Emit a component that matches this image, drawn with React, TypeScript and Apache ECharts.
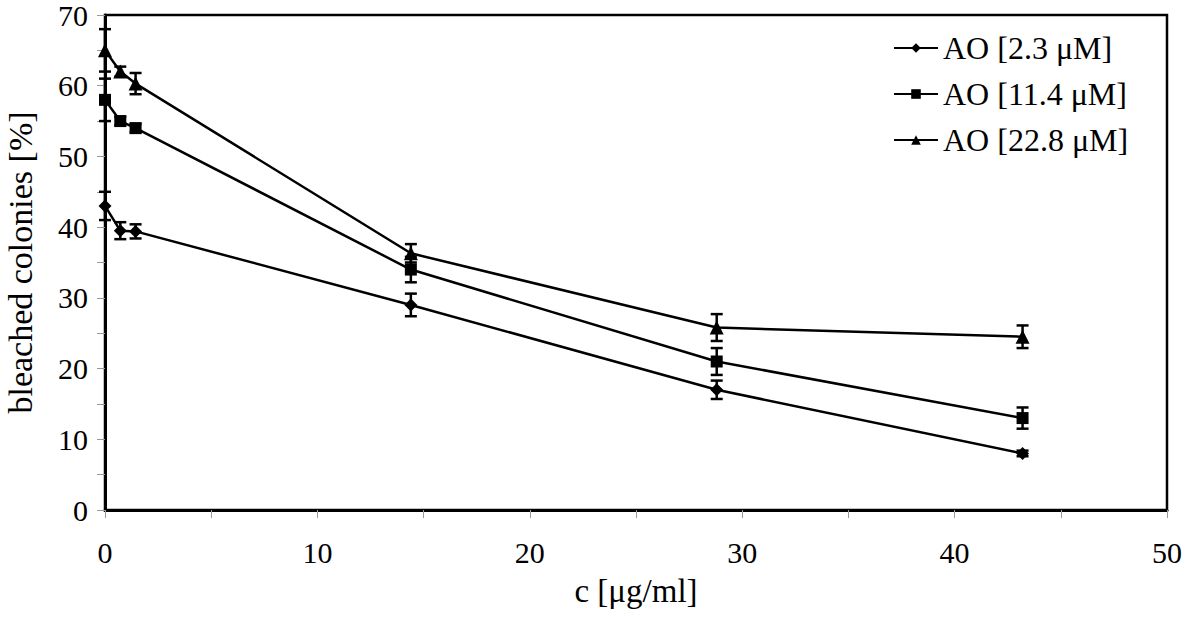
import React, { useEffect, useRef } from "react";
import * as echarts from "echarts";

const concentrations = [0, 0.72, 1.44, 14.4, 28.8, 43.2];
const seriesNames = ["AO [2.3 μM]", "AO [11.4 μM]", "AO [22.8 μM]"];
const ao23 = [43, 39.5, 39.4, 29, 17, 8];
const err23 = [2, 1.2, 1, 1.6, 1.3, 0.4];
const ao114 = [58, 55, 54, 34, 21, 13];
const err114 = [3, 0.6, 0.6, 1.8, 1.9, 1.5];
const ao228 = [65, 62, 60.3, 36.3, 25.8, 24.5];
const err228 = [3, 0.7, 1.5, 1.3, 1.9, 1.6];
const symbols = ["diamond", "rect", "triangle"];
const symbolSizes = [13, 12, 14];

const FONT = "'Liberation Serif', 'Times New Roman', serif";

export default function App() {
  const ref = useRef<HTMLDivElement>(null);
  useEffect(() => {
    if (!ref.current) return;
    const chart = echarts.init(ref.current, undefined, { renderer: "svg" });
    const values = [ao23, ao114, ao228];
    const errs = [err23, err114, err228];

    const lineSeries = values.map((vals, i) => ({
      name: seriesNames[i],
      type: "line",
      data: concentrations.map((x, j) => [x, vals[j]]),
      symbol: symbols[i],
      symbolSize: symbolSizes[i],
      lineStyle: { color: "#000", width: 2.5 },
      itemStyle: { color: "#000" },
      z: 3,
    }));

    const errSeries = values.map((vals, i) => ({
      name: seriesNames[i] + " err",
      type: "custom",
      clip: false,
      z: 2,
      data: concentrations.map((x, j) => [x, vals[j] - errs[i][j], vals[j] + errs[i][j]]),
      renderItem: (params: any, api: any) => {
        const x = api.value(0);
        const lo = api.value(1);
        const hi = api.value(2);
        const p1 = api.coord([x, hi]);
        const p2 = api.coord([x, lo]);
        const w = 6;
        const st = { stroke: "#000", lineWidth: 2.5 };
        return {
          type: "group",
          children: [
            { type: "line", shape: { x1: p1[0], y1: p1[1], x2: p2[0], y2: p2[1] }, style: st },
            { type: "line", shape: { x1: p1[0] - w, y1: p1[1], x2: p1[0] + w, y2: p1[1] }, style: st },
            { type: "line", shape: { x1: p2[0] - w, y1: p2[1], x2: p2[0] + w, y2: p2[1] }, style: st },
          ],
        };
      },
    }));

    chart.setOption({
      animation: false,
      backgroundColor: "#fff",
      textStyle: { fontFamily: FONT, color: "#000" },
      grid: {
        left: 105,
        right: 28,
        top: 15,
        bottom: 108,
        containLabel: false,
        outerBoundsMode: "none",
        show: true,
        borderColor: "#000",
        borderWidth: 2.5,
        backgroundColor: "transparent",
      },
      legend: {
        data: seriesNames,
        orient: "vertical",
        left: 888,
        top: 27,
        itemWidth: 44,
        itemHeight: 12,
        itemGap: 14,
        textStyle: { fontFamily: FONT, fontSize: 32, color: "#000" },
      },
      xAxis: {
        type: "value",
        min: 0,
        max: 50,
        interval: 5,
        name: "c [μg/ml]",
        nameLocation: "middle",
        nameGap: 64,
        nameTextStyle: { fontFamily: FONT, fontSize: 33, color: "#000" },
        axisLine: { show: true, lineStyle: { color: "#000", width: 3 } },
        axisTick: { show: true, length: 8, lineStyle: { color: "#999", width: 1 } },
        axisLabel: {
          fontFamily: FONT,
          fontSize: 30,
          color: "#000",
          margin: 27,
          formatter: (v: number) => (v % 10 === 0 ? String(v) : ""),
        },
        splitLine: { show: false },
      },
      yAxis: {
        type: "value",
        min: 0,
        max: 70,
        interval: 5,
        name: "bleached colonies [%]",
        nameLocation: "middle",
        nameGap: 68,
        nameTextStyle: { fontFamily: FONT, fontSize: 34, color: "#000" },
        axisLine: { show: true, lineStyle: { color: "#000", width: 3 } },
        axisTick: { show: true, length: 8, lineStyle: { color: "#999", width: 1 } },
        axisLabel: {
          fontFamily: FONT,
          fontSize: 30,
          color: "#000",
          margin: 17,
          formatter: (v: number) => (v % 10 === 0 ? String(v) : ""),
        },
        splitLine: { show: false },
      },
      series: [...errSeries, ...lineSeries],
    });
    return () => chart.dispose();
  }, []);
  return (
    <div
      ref={ref}
      style={{ position: "fixed", left: 0, top: 0, width: 1195, height: 618, background: "#fff" }}
    />
  );
}
